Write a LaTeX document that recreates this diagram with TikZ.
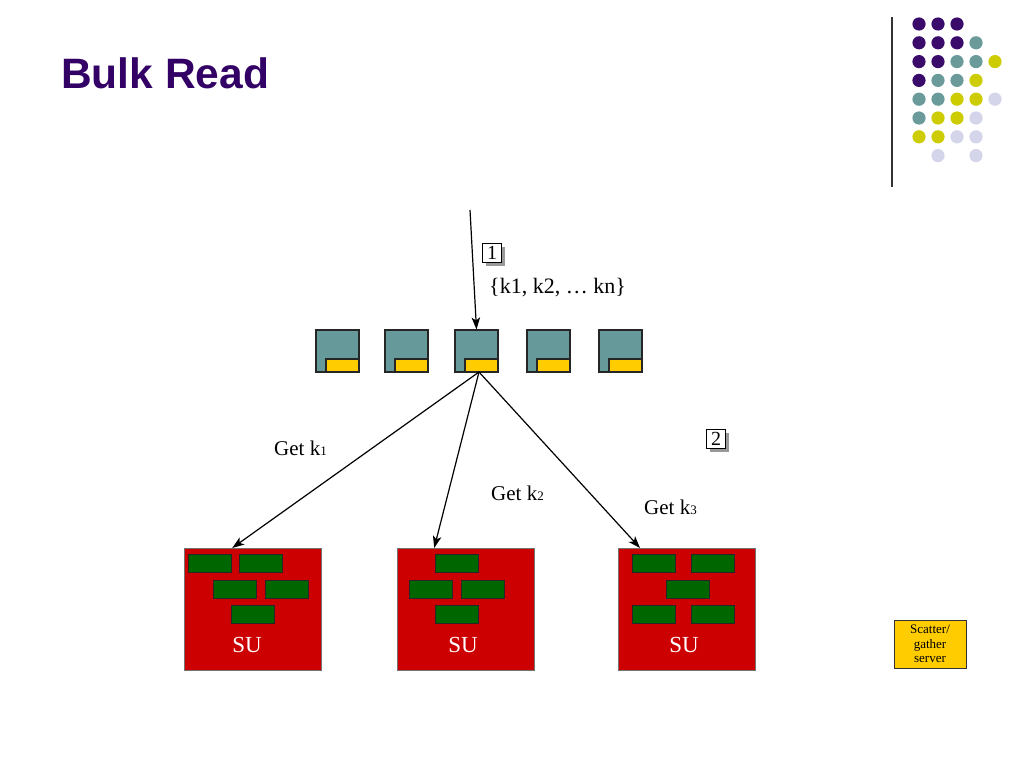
\documentclass[tikz,border=0pt]{standalone}
\usepackage{fontspec}
\setmainfont{Liberation Serif}
\newfontfamily\titlefont{Liberation Sans}
\usetikzlibrary{arrows.meta,calc,shadows}
\definecolor{ttlpurple}{HTML}{330066}
\definecolor{dotP}{HTML}{3A0B6B}
\definecolor{dotT}{HTML}{6A9A9A}
\definecolor{dotY}{HTML}{CCCC00}
\definecolor{dotL}{HTML}{D4D4EA}
\definecolor{cachecol}{HTML}{669999}
\definecolor{slotcol}{HTML}{FFCC00}
\definecolor{sucol}{HTML}{CC0000}
\definecolor{brickcol}{HTML}{006600}
\tikzset{
  cachebox/.style={draw=black!85, fill=cachecol, line width=1.1pt, minimum width=43pt, minimum height=42pt, inner sep=0pt},
  slotbox/.style={draw=black!85, fill=slotcol, line width=1.1pt, minimum width=33pt, minimum height=13pt, inner sep=0pt, anchor=south east},
  subox/.style={draw=black!55, fill=sucol, line width=0.7pt, minimum width=137pt, minimum height=122pt, inner sep=0pt, anchor=north west},
  brick/.style={draw=black!85, fill=brickcol, line width=1.1pt, minimum width=43pt, minimum height=18pt, inner sep=0pt, anchor=north west},
  sulabel/.style={text=white, font=\fontsize{23}{26}\selectfont},
  getlabel/.style={font=\fontsize{21}{24}\selectfont, inner sep=0pt, anchor=west},
  numbox/.style={draw=black, fill=white, line width=1pt, minimum width=19pt, minimum height=19pt, inner sep=0pt, font=\fontsize{20}{20}\selectfont, drop shadow={shadow xshift=3.5pt, shadow yshift=-3.5pt, fill=black!40, opacity=1}},
  conn/.style={line width=1.2pt, -{Stealth[length=12pt,width=8.5pt,inset=3pt]}},
}
\newcommand{\smallsub}[1]{{\fontsize{13}{13}\selectfont #1}}
\begin{document}
\begin{tikzpicture}[x=1pt,y=-1pt]
\useasboundingbox (0,0) rectangle (1024,768);
\fill[white] (0,0) rectangle (1024,768);
% title
\node[anchor=west, inner sep=0pt, text=ttlpurple, font=\titlefont\bfseries\fontsize{42.5}{46}\selectfont] (title) at (61,73) {Bulk Read};
% decorative dots and rule
\draw[black!80, line width=1.2pt] (892,17) -- (892,187);
\foreach \c/\col/\row in {
  dotP/0/0, dotP/1/0, dotP/2/0,
  dotP/0/1, dotP/1/1, dotP/2/1, dotT/3/1,
  dotP/0/2, dotP/1/2, dotT/2/2, dotT/3/2, dotY/4/2,
  dotP/0/3, dotT/1/3, dotT/2/3, dotY/3/3,
  dotT/0/4, dotT/1/4, dotY/2/4, dotY/3/4, dotL/4/4,
  dotT/0/5, dotY/1/5, dotY/2/5, dotL/3/5,
  dotY/0/6, dotY/1/6, dotL/2/6, dotL/3/6,
  dotL/1/7, dotL/3/7}
  \fill[\c] ({919+19*\col},{24+18.8*\row}) circle (6.6);
% cache servers
\foreach \i/\x in {1/337.5, 2/406.5, 3/476.5, 4/548.5, 5/620.5} {
  \node[cachebox] (c\i) at (\x,351) {};
  \node[slotbox] (y\i) at (c\i.south east) {};
}
% incoming request
\coordinate (src) at (470,210);
\draw[conn] (src) -- (c3.north);
\node[numbox] (n1) at (492,253) {1};
\node[anchor=west, inner sep=0pt, font=\fontsize{22}{24}\selectfont] (keys) at (489,288) {\{k1, k2, \ldots\ kn\}};
% storage units
\node[subox] (su1) at (184,548) {};
\node[subox] (su2) at (397,548) {};
\node[subox] (su3) at (618,548) {};
\node[sulabel] (sut1) at (247,645) {SU};
\node[sulabel] (sut2) at (463,645) {SU};
\node[sulabel] (sut3) at (684,645) {SU};
% bricks SU1
\node[brick] (b11) at (188,554) {};
\node[brick] (b12) at (239,554) {};
\node[brick] (b13) at (213,580) {};
\node[brick] (b14) at (265,580) {};
\node[brick] (b15) at (231,605) {};
% bricks SU2
\node[brick] (b21) at (435,554) {};
\node[brick] (b22) at (409,580) {};
\node[brick] (b23) at (461,580) {};
\node[brick] (b24) at (435,605) {};
% bricks SU3
\node[brick] (b31) at (632,554) {};
\node[brick] (b32) at (691,554) {};
\node[brick] (b33) at (666,580) {};
\node[brick] (b34) at (632,605) {};
\node[brick] (b35) at (691,605) {};
% fan-out
\coordinate (fan) at (479,372);
\draw[conn] (fan) -- ($(su1.north west)!0.35!(su1.north east)$);
\draw[conn] (fan) -- ($(su2.north west)!0.27!(su2.north east)$);
\draw[conn] (fan) -- ($(su3.north west)!0.16!(su3.north east)$);
\node[getlabel] (g1) at (274,448) {Get k\smallsub{1}};
\node[getlabel] (g2) at (491,493) {Get k\smallsub{2}};
\node[getlabel] (g3) at (644,507) {Get k\smallsub{3}};
\node[numbox] (n2) at (716,439) {2};
% scatter/gather server
\node[draw=black!80, fill=slotcol, line width=1pt, minimum width=72pt, minimum height=48pt, inner sep=0pt, align=center, font=\fontsize{13}{14.5}\selectfont] (sg) at (930,644) {Scatter/\\gather\\server};
\end{tikzpicture}
\end{document}
